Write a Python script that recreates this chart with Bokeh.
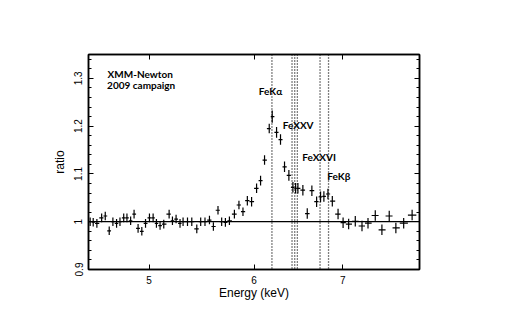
import math
from bokeh.plotting import figure
from bokeh.models import (Range1d, LogAxis, LinearAxis, FixedTicker, SingleIntervalTicker,
                          Span, Label, CustomJSTickFormatter, ColumnDataSource)
from bokeh.embed import file_html
from bokeh.resources import INLINE

# ---- data ----
energy = [4.513, 4.537, 4.566, 4.604, 4.633, 4.665, 4.695, 4.725, 4.753, 4.784,
          4.811, 4.842, 4.871, 4.905, 4.937, 4.969, 5.003, 5.035, 5.064, 5.096,
          5.129, 5.177, 5.207, 5.240, 5.276, 5.304, 5.345, 5.385, 5.432, 5.469,
          5.510, 5.553, 5.591, 5.636, 5.672, 5.709, 5.749, 5.799, 5.845, 5.886,
          5.931, 5.975, 6.027, 6.069, 6.111, 6.161, 6.193, 6.240, 6.283, 6.327,
          6.375, 6.420, 6.450, 6.476, 6.532, 6.582, 6.635, 6.690, 6.736, 6.775,
          6.823, 6.875, 6.944, 7.005, 7.073, 7.155, 7.239, 7.315, 7.408, 7.494,
          7.590, 7.678, 7.783, 7.898]
ratio = [1.000, 0.999, 0.9965, 1.008, 1.012, 0.981, 1.000, 0.9965, 1.000, 1.008,
         1.008, 1.002, 1.016, 0.986, 0.980, 0.9965, 1.008, 1.008, 0.9965, 0.992,
         0.995, 1.016, 1.002, 1.0056, 0.9965, 1.000, 1.000, 1.000, 0.985, 1.000,
         1.000, 1.0035, 0.990, 1.024, 1.000, 0.9986, 1.002, 1.016, 1.035, 1.021,
         1.044, 1.042, 1.070, 1.086, 1.129, 1.195, 1.220, 1.187, 1.172, 1.115,
         1.097, 1.072, 1.070, 1.070, 1.066, 1.017, 1.065, 1.042, 1.052, 1.053,
         1.058, 1.043, 1.016, 0.998, 0.995, 1.001, 0.991, 0.997, 1.013, 0.983,
         1.012, 0.987, 0.997, 1.014]
ratio_err = [0.009] * 40 + [0.010] * 6 + [0.013] + [0.011] * 27

line_energies = [6.19, 6.41, 6.44, 6.47, 6.73, 6.83]
x_ticks = [5, 6, 7]

# bin edges from geometric midpoints of neighbouring energies
n = len(energy)
edges = [math.sqrt(energy[i] * energy[i + 1]) for i in range(n - 1)]
lo = [energy[0] ** 2 / edges[0]] + edges
hi = edges + [energy[-1] ** 2 / edges[-1]]
src = ColumnDataSource(dict(
    x=energy, y=ratio, xlo=lo, xhi=hi,
    ylo=[r - e for r, e in zip(ratio, ratio_err)],
    yhi=[r + e for r, e in zip(ratio, ratio_err)]))

p = figure(x_axis_type="log", x_range=Range1d(4.5, 8.0), y_range=Range1d(0.9, 1.35),
           frame_width=331, frame_height=215,
           min_border_left=88, min_border_right=72, min_border_top=54, min_border_bottom=44,
           output_backend="svg", toolbar_location=None, background_fill_color="white",
           border_fill_color="white")
p.xgrid.visible = False
p.ygrid.visible = False
p.outline_line_color = "black"
p.outline_line_width = 1.5

fmt_x = CustomJSTickFormatter(code="return tick.toFixed(0);")
fmt_y = CustomJSTickFormatter(code="return String(parseFloat(tick.toFixed(2)));")

xb = p.xaxis[0]
xb.ticker = FixedTicker(ticks=x_ticks, minor_ticks=[])
xb.formatter = fmt_x
xb.axis_label = "Energy (keV)"

yl = p.yaxis[0]
yl.ticker = SingleIntervalTicker(interval=0.1, num_minor_ticks=5)
yl.formatter = fmt_y
yl.axis_label = "ratio"
yl.major_label_orientation = "vertical"

xt = LogAxis(ticker=FixedTicker(ticks=x_ticks, minor_ticks=[]), major_label_text_alpha=0)
yr = LinearAxis(ticker=SingleIntervalTicker(interval=0.1, num_minor_ticks=5),
                major_label_text_alpha=0)
p.add_layout(xt, "above")
p.add_layout(yr, "right")

for ax in [xb, yl, xt, yr]:
    ax.axis_line_color = "black"
    ax.axis_line_width = 1.5
    ax.major_tick_in = 5
    ax.major_tick_out = 0
    ax.minor_tick_in = 3
    ax.minor_tick_out = 0
    ax.major_tick_line_color = "black"
    ax.minor_tick_line_color = "black"
    ax.major_label_text_font = "Liberation Sans"
    ax.major_label_text_font_size = "10px"
    ax.major_label_text_color = "black"
    ax.axis_label_text_font = "Liberation Sans"
    ax.axis_label_text_font_size = "12px"
    ax.axis_label_text_font_style = "normal"
    ax.axis_label_text_color = "black"
xb.major_label_standoff = 6
yl.major_label_standoff = 6
xb.axis_label_standoff = -1
yl.axis_label_standoff = 5
xt.major_label_text_font_size = "1px"
yr.major_label_text_font_size = "1px"

# reference lines
p.add_layout(Span(location=1.0, dimension="width", line_color="black", line_width=1.2))
for e in line_energies:
    p.add_layout(Span(location=e, dimension="height", line_color="black",
                      line_width=1.3, line_dash="1 2"))

# data crosses
p.segment(x0="xlo", x1="xhi", y0="y", y1="y", source=src, line_color="black", line_width=1.2)
p.segment(x0="x", x1="x", y0="ylo", y1="yhi", source=src, line_color="black", line_width=1.2)

lab = dict(text_font="Lato", text_font_style="bold", text_font_size="10px",
           text_color="black", text_baseline="middle", text_align="left")
p.add_layout(Label(x=4.652, y=1.3096, text="XMM-Newton", **lab))
p.add_layout(Label(x=4.648, y=1.2866, text="2009 campaign", **lab))
p.add_layout(Label(x=6.051, y=1.2746, text="FeKα", **lab))
p.add_layout(Label(x=6.308, y=1.2034, text="FeXXV", **lab))
p.add_layout(Label(x=6.525, y=1.135, text="FeXXVI", **lab))
p.add_layout(Label(x=6.816, y=1.0967, text="FeKβ", **lab))

open("out.html", "w").write(file_html(p, INLINE))
